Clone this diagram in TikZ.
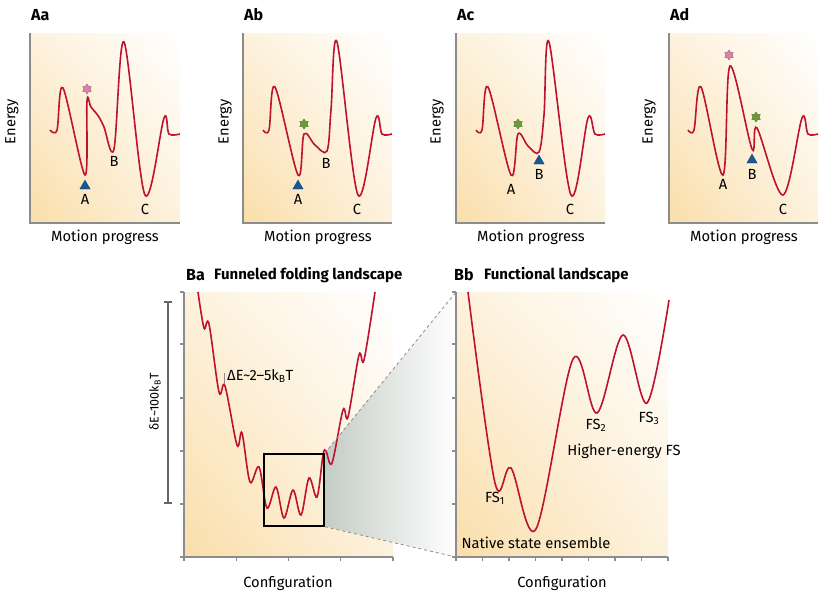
\documentclass[tikz,border=0pt]{standalone}
\usepackage{fontspec}
\setmainfont{Fira Sans}
\usetikzlibrary{shapes.geometric,shadings,positioning}

\definecolor{curvered}{RGB}{190,18,45}
\definecolor{bgorange}{RGB}{250,222,170}
\definecolor{axisgray}{RGB}{140,140,140}
\definecolor{starpink}{RGB}{214,130,170}
\definecolor{stargreen}{RGB}{105,155,55}
\definecolor{triblue}{RGB}{25,88,150}
\definecolor{zoomgray}{RGB}{196,204,198}

\begin{document}
\begin{tikzpicture}[
			x=1pt, y=-1pt,
			font=\fontsize{14.7}{17}\selectfont,
			landscape/.style={curvered, line width=1.6pt, smooth, tension=0.55},
			axisline/.style={axisgray, line width=1.1pt},
			bg/.style={lower left=bgorange, upper left=bgorange!40!white, lower right=bgorange!40!white, upper right=white},
			panel/.style={font=\fontsize{16}{18}\selectfont\bfseries, anchor=west, inner sep=0pt},
			title/.style={font=\fontsize{15}{17}\selectfont\bfseries, inner sep=0pt},
			pinkstar/.style={star, star points=6, star point ratio=1.6, fill=starpink, draw=starpink!70!black, line width=0.3pt, inner sep=0pt, minimum size=10pt},
			greenstar/.style={pinkstar, fill=stargreen, draw=stargreen!70!black},
			marker/.style={regular polygon, regular polygon sides=3, fill=triblue, draw=triblue!70!black, line width=0.3pt, inner sep=0pt, minimum size=12pt},
			]

			\useasboundingbox (0,0) rectangle (825,598);

			% --- Backgrounds ---
			\shade[bg] (30,33) rectangle (180,223);
			\shade[bg] (243,33) rectangle (392,223);
			\shade[bg] (456,33) rectangle (605,223);
			\shade[bg] (669,33) rectangle (818,223);
			\shade[bg] (184,292) rectangle (393,557);
			\shade[bg] (456,292) rectangle (668,557);

			% Zoomed region (Ba box -> Bb)
			\shade[left color=zoomgray, right color=white] (324,454) -- (456,292) -- (456,557) -- (324,526) -- cycle;

			% --- Axes, top row ---
			\draw[axisline] (30,33) -- (30,223) -- (180,223);
			\draw[axisline] (243,33) -- (243,223) -- (392,223);
			\draw[axisline] (456,33) -- (456,223) -- (605,223);
			\draw[axisline] (669,33) -- (669,223) -- (818,223);

			% --- Axes, bottom row (with ticks) ---
			\draw[axisline] (184,292) -- (184,557) -- (393,557);
			\draw[axisline] (456,292) -- (456,557) -- (668,557);
			\foreach \ty in {292,344,398,451,504,557} {
				\draw[axisline] (180,\ty) -- (184,\ty);
				\draw[axisline] (452,\ty) -- (456,\ty);
			}
			\foreach \tx in {184,236.25,288.5,340.75,393}
				\draw[axisline] (\tx,557) -- (\tx,561);
			\foreach \tx in {456,482.5,509,535.5,562,588.5,615,641.5,668}
				\draw[axisline] (\tx,557) -- (\tx,561);

			% --- Energy curves, top row ---
			\draw[landscape] plot coordinates {(50,130) (57,130) (63,88) (85,175) (87,101) (91,107) (99,117) (104,127) (114,149) (124,42) (145,195) (164,118) (169,134) (180,134)};
			\draw[landscape] plot coordinates {(263,130) (269,130) (275,87) (298,175) (304,134) (315,145) (327,151) (331,110) (337,42) (358,195) (376,118) (382,134) (392,134)};
			\draw[landscape] plot coordinates {(476,130) (482,130) (488,87) (511,175) (518,134) (528,146) (539,152) (544,115) (549,42) (571,195) (588,118) (595,134) (605,134)};
			\draw[landscape] plot coordinates {(688,130) (694,130) (701,87) (723,175) (730,66) (752,149) (757,128) (783,195) (802,118) (808,134) (818,134)};

			% --- Funnel (Ba) and functional (Bb) landscapes ---
			\draw[landscape] plot coordinates {(198,292) (204,328) (209,324) (219,392) (225,386) (237,445) (242,433) (250,482) (259,467) (267,508) (276,487) (284,518) (293,490) (301,515) (309,478) (317,497) (323,455) (326,451) (332,463) (343,410) (348,417) (359,355) (364,360) (375,292)};
			\draw[landscape] plot coordinates {(468,292) (495,483) (511,468) (536,529) (573,359) (597,413) (623,335) (647,403) (669,300)};

			% Zoom box and its projection lines
			\node[draw=black, line width=1.5pt, minimum width=60pt, minimum height=72pt, inner sep=0pt] (zoombox) at (294,490) {};
			\coordinate (bbtop) at (456,292);
			\coordinate (bbbottom) at (456,557);
			\draw[axisgray, dashed, line width=0.8pt] (zoombox.north east) -- (bbtop);
			\draw[axisgray, dashed, line width=0.8pt] (zoombox.south east) -- (bbbottom);

			% --- States: stars and triangles ---
			\node[pinkstar] (sa) at (87,89) {};
			\node[marker] (ta) at (85,186) {};
			\node[greenstar] (sb) at (304,124) {};
			\node[marker] (tb) at (298,186) {};
			\node[greenstar] (sc) at (518,124) {};
			\node[marker] (tc) at (539,161) {};
			\node[pinkstar] (sd1) at (729,55) {};
			\node[greenstar] (sd2) at (756,117) {};
			\node[marker] (td) at (752,160) {};

			% --- Minimum labels ---
			\node (aA) at (85,199) {A};  \node (aB) at (114,161) {B}; \node (aC) at (145,209) {C};
			\node (bA) at (298,199) {A}; \node (bB) at (326,163) {B}; \node (bC) at (357,209) {C};
			\node (cA) at (511,189) {A}; \node (cB) at (539,174) {B}; \node (cC) at (570,209) {C};
			\node (dA) at (723,184) {A}; \node (dB) at (752,174) {B}; \node (dC) at (783,209) {C};

			% --- Axis titles ---
			\node[rotate=90] (ea) at (12,122) {Energy};
			\node[rotate=90] (eb) at (225,122) {Energy};
			\node[rotate=90] (ec) at (437,122) {Energy};
			\node[rotate=90] (ed) at (649,122) {Energy};
			\node (ma) at (105,237) {Motion progress};
			\node (mb) at (318,237) {Motion progress};
			\node (mc) at (531,237) {Motion progress};
			\node (md) at (744,237) {Motion progress};
			\node (cfa) at (288,583) {Configuration};
			\node (cfb) at (562,583) {Configuration};

			% --- Panel letters ---
			\node[panel] (pa) at (31,15) {Aa};
			\node[panel] (pb) at (244,15) {Ab};
			\node[panel] (pc) at (457,15) {Ac};
			\node[panel] (pd) at (670,15) {Ad};
			\node[panel] (pba) at (186,275) {Ba};
			\node[title, right=9pt of pba] (tba) {Funneled folding landscape};
			\node[panel] (pbb) at (454,275) {Bb};
			\node[title, right=10pt of pbb] (tbb) {Functional landscape};

			% --- Ba annotations ---
			\draw[black!60, line width=1.1pt] (168,302) -- (168,503);
			\draw[black!60, line width=1.1pt] (164,302) -- (172,302) (164,503) -- (172,503);
			\node[rotate=90, font=\fontsize{12.5}{14}\selectfont] (dE) at (155,402) {δE\textasciitilde100k\textsubscript{B}T};
			\draw[axisgray, line width=0.7pt] (224,373) -- (224,383);
			\node[anchor=west, inner sep=1pt] (dEsmall) at (226,376) {ΔE\textasciitilde2–5k\textsubscript{B}T};

			% --- Bb annotations ---
			\node (fs1) at (495,498) {FS\textsubscript{1}};
			\node (fs2) at (596,425) {FS\textsubscript{2}};
			\node (fs3) at (649,418) {FS\textsubscript{3}};
			\node (hefs) at (624,451) {Higher-energy FS};
			\node (nse) at (536,543) {Native state ensemble};

		\end{tikzpicture}
\end{document}
